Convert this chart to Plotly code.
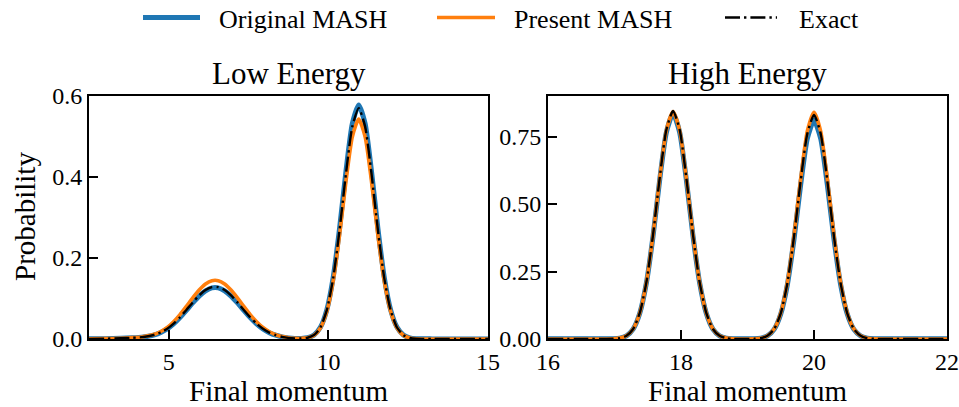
import plotly.graph_objects as go

# ---------------- data ----------------
# Low energy panel
low_x = [2.5, 3.0, 3.5, 3.85, 4.15, 4.35, 4.55, 4.75, 4.95, 5.15, 5.35, 5.55, 5.75, 5.95,
         6.15, 6.35, 6.55, 6.75, 6.95, 7.15, 7.35, 7.55, 7.75, 7.95, 8.15, 8.35, 8.55,
         8.75, 8.95, 9.15, 9.35, 9.55, 9.75, 9.95, 10.15, 10.35, 10.55, 10.75, 10.95,
         11.15, 11.35, 11.55, 11.75, 11.95, 12.15, 12.35, 12.55, 12.75, 13.25, 14.0, 15.0]
low_exact = [0.0003, 0.0008, 0.0018, 0.0030, 0.0045, 0.0068, 0.0105, 0.0165, 0.0252, 0.0378,
             0.0536, 0.0717, 0.0904, 0.1076, 0.1208, 0.1281, 0.1281, 0.1208, 0.1076, 0.0904,
             0.0717, 0.0536, 0.0378, 0.0252, 0.0158, 0.0094, 0.0053, 0.0028, 0.0014, 0.0014,
             0.0031, 0.0097, 0.0284, 0.0711, 0.1503, 0.2693, 0.4085, 0.5244, 0.5700, 0.5244,
             0.4085, 0.2693, 0.1503, 0.0711, 0.0284, 0.0096, 0.0028, 0.0007, 0.0001, 0.0, 0.0]
low_original = [0.0004, 0.0008, 0.0017, 0.0029, 0.0044, 0.0067, 0.0103, 0.0163, 0.0248, 0.0372,
                0.0528, 0.0706, 0.0890, 0.1060, 0.1190, 0.1262, 0.1262, 0.1190, 0.1060, 0.0890,
                0.0706, 0.0528, 0.0372, 0.0248, 0.0156, 0.0093, 0.0052, 0.0028, 0.0014, 0.0014,
                0.0031, 0.0098, 0.0288, 0.0721, 0.1524, 0.2731, 0.4142, 0.5318, 0.5780, 0.5318,
                0.4142, 0.2731, 0.1524, 0.0721, 0.0288, 0.0097, 0.0028, 0.0008, 0.0003, 0.0002, 0.0002]
low_present = [0.0003, 0.0009, 0.0020, 0.0034, 0.0051, 0.0077, 0.0118, 0.0185, 0.0283, 0.0425,
               0.0602, 0.0806, 0.1016, 0.1209, 0.1358, 0.1440, 0.1440, 0.1358, 0.1209, 0.1016,
               0.0806, 0.0602, 0.0425, 0.0283, 0.0178, 0.0106, 0.0060, 0.0031, 0.0016, 0.0015,
               0.0030, 0.0092, 0.0271, 0.0677, 0.1432, 0.2565, 0.3891, 0.4995, 0.5430, 0.4995,
               0.3891, 0.2565, 0.1432, 0.0677, 0.0271, 0.0091, 0.0027, 0.0007, 0.0001, 0.0, 0.0]

# High energy panel
high_x = [16.0, 16.5, 16.88, 16.98, 17.08, 17.18, 17.28, 17.38, 17.48, 17.58, 17.68, 17.78,
          17.88, 17.98, 18.08, 18.18, 18.28, 18.38, 18.48, 18.58, 18.68, 18.78, 18.95, 19.1,
          19.2, 19.3, 19.4, 19.5, 19.6, 19.7, 19.8, 19.9, 20.0, 20.1, 20.2, 20.3, 20.4, 20.5,
          20.6, 20.7, 20.8, 20.9, 21.2, 21.6, 22.0]
high_exact = [0.0, 0.0, 0.0001, 0.0007, 0.0033, 0.0120, 0.0371, 0.0965, 0.2107, 0.3868, 0.5971,
              0.7748, 0.8450, 0.7748, 0.5971, 0.3868, 0.2107, 0.0965, 0.0371, 0.0120, 0.0033,
              0.0007, 0.0001, 0.0007, 0.0032, 0.0118, 0.0364, 0.0948, 0.2070, 0.3800, 0.5865,
              0.7610, 0.8300, 0.7610, 0.5865, 0.3800, 0.2070, 0.0948, 0.0364, 0.0118, 0.0032,
              0.0007, 0.0, 0.0, 0.0]
high_original = [0.0005, 0.0005, 0.0006, 0.0010, 0.0033, 0.0119, 0.0367, 0.0953, 0.2082, 0.3822,
                 0.5899, 0.7655, 0.8350, 0.7655, 0.5899, 0.3822, 0.2082, 0.0953, 0.0367, 0.0119,
                 0.0033, 0.0010, 0.0005, 0.0009, 0.0031, 0.0115, 0.0355, 0.0925, 0.2020, 0.3709,
                 0.5724, 0.7427, 0.8100, 0.7427, 0.5724, 0.3709, 0.2020, 0.0925, 0.0355, 0.0115,
                 0.0031, 0.0009, 0.0005, 0.0005, 0.0005]
high_present = [0.0, 0.0, 0.0001, 0.0007, 0.0033, 0.0120, 0.0370, 0.0962, 0.2099, 0.3854, 0.5950,
                0.7720, 0.8420, 0.7720, 0.5950, 0.3854, 0.2099, 0.0962, 0.0370, 0.0120, 0.0033,
                0.0007, 0.0001, 0.0007, 0.0032, 0.0119, 0.0368, 0.0959, 0.2095, 0.3846, 0.5936,
                0.7702, 0.8400, 0.7702, 0.5936, 0.3846, 0.2095, 0.0959, 0.0368, 0.0119, 0.0032,
                0.0007, 0.0, 0.0, 0.0]

series_names = ["Original MASH", "Present MASH", "Exact"]
panel_titles = ["Low Energy", "High Energy"]
x_title = "Final momentum"
y_title = "Probability"
low_xticks = [5, 10, 15]
low_yticks = [0.0, 0.2, 0.4, 0.6]
high_xticks = [16, 18, 20, 22]
high_yticks = [0.0, 0.25, 0.5, 0.75]

# ---------------- figure ----------------
FONT = "Liberation Serif"
BLUE = "#1f77b4"
ORANGE = "#ff7f0e"
W, H = 959, 407


def px(x):
    """window pixel x -> paper fraction"""
    return x / W


def py(y):
    """window pixel y -> paper fraction"""
    return 1 - y / H


DOM_L = [px(89), px(488)]
DOM_R = [px(548), px(947)]
DOM_Y = [py(339), py(96)]

styles = [
    dict(color=BLUE, width=5),
    dict(color=ORANGE, width=3.6),
    dict(color="black", width=2.4, dash="15px,4px,2.4px,4px"),
]

fig = go.Figure()
panels = [
    (low_x, [low_original, low_present, low_exact], "x", "y"),
    (high_x, [high_original, high_present, high_exact], "x2", "y2"),
]
for xs, ys, xa, ya in panels:
    for si, yv in enumerate(ys):
        st = dict(styles[si])
        st["shape"] = "spline"
        st["smoothing"] = 0.6
        fig.add_trace(go.Scatter(
            x=xs, y=yv, mode="lines", name=series_names[si],
            line=st, xaxis=xa, yaxis=ya, showlegend=False,
        ))

axis_common = dict(
    showline=True, linecolor="black", linewidth=2, mirror=True,
    ticks="inside", ticklen=9, tickwidth=1.8, tickcolor="black",
    showgrid=False, zeroline=False, automargin=False,
    tickfont=dict(family=FONT, size=24, color="black"),
)

# manual legend (line samples + labels)
legend_items = [(143, 200, 217), (437, 495, 512), (725, 777, 797)]
shapes = []
annotations = []
for si, (x0, x1, xt) in enumerate(legend_items):
    ln = dict(color=styles[si]["color"], width=styles[si]["width"])
    if "dash" in styles[si]:
        ln["dash"] = styles[si]["dash"]
    shapes.append(dict(type="line", xref="paper", yref="paper",
                       x0=px(x0), x1=px(x1), y0=py(17.5), y1=py(17.5), line=ln))
    annotations.append(dict(text=series_names[si], x=px(xt), y=py(19), xref="paper", yref="paper",
                            xanchor="left", yanchor="middle", showarrow=False,
                            font=dict(family=FONT, size=26, color="black")))

for dom, title in [(DOM_L, panel_titles[0]), (DOM_R, panel_titles[1])]:
    cx = (dom[0] + dom[1]) / 2
    annotations.append(dict(text=title, x=cx, y=py(73), xref="paper", yref="paper",
                            xanchor="center", yanchor="middle", showarrow=False,
                            font=dict(family=FONT, size=31, color="black")))
    annotations.append(dict(text=x_title, x=cx, y=py(391), xref="paper", yref="paper",
                            xanchor="center", yanchor="middle", showarrow=False,
                            font=dict(family=FONT, size=29, color="black")))
annotations.append(dict(text=y_title, x=px(25), y=py(217), xref="paper", yref="paper",
                        xanchor="center", yanchor="middle", showarrow=False, textangle=-90,
                        font=dict(family=FONT, size=29, color="black")))

fig.update_layout(
    template="none",
    width=W, height=H,
    margin=dict(l=0, r=0, t=0, b=0),
    paper_bgcolor="white", plot_bgcolor="white",
    font=dict(family=FONT, color="black"),
    showlegend=False,
    xaxis=dict(domain=DOM_L, range=[2.5, 15], tickvals=low_xticks,
               ticktext=[str(v) for v in low_xticks], anchor="y", **axis_common),
    yaxis=dict(domain=DOM_Y, range=[0, 0.6], tickvals=low_yticks,
               ticktext=["%.1f" % v for v in low_yticks], anchor="x", **axis_common),
    xaxis2=dict(domain=DOM_R, range=[16, 22], tickvals=high_xticks,
                ticktext=[str(v) for v in high_xticks], anchor="y2", **axis_common),
    yaxis2=dict(domain=DOM_Y, range=[0, 0.9], tickvals=high_yticks,
                ticktext=["%.2f" % v for v in high_yticks], anchor="x2", **axis_common),
    shapes=shapes,
    annotations=annotations,
)

# remove the browser's default 8px page margin so the figure fills the window exactly
fig.write_html("out.html",
               config={"displayModeBar": False},
               post_script="document.body.style.margin='0px';document.body.style.overflow='hidden';")
